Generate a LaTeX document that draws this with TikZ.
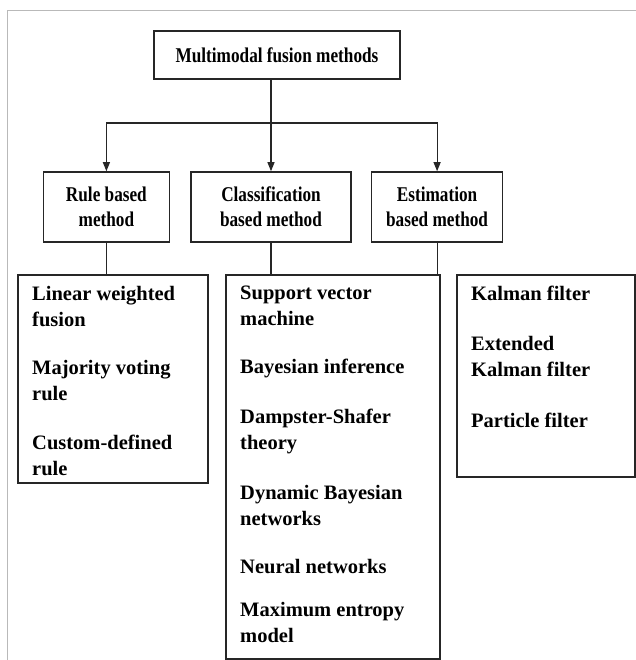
\documentclass[tikz,border=0pt]{standalone}
\usepackage{fontspec}
\setmainfont{Liberation Serif}
\newfontfamily\headfont[FakeStretch=0.82]{Liberation Serif}
\usetikzlibrary{arrows.meta,positioning}
\tikzset{
	headbox/.style={rectangle, draw=black!85, line width=1.6pt, align=center,
		font=\headfont\bfseries\fontsize{21}{25}\selectfont, inner sep=4pt},
	listbox/.style={rectangle, draw=black!85, line width=1.6pt, anchor=north west, inner sep=0pt},
	listtext/.style={anchor=north west, align=left, font=\bfseries\fontsize{20.5}{26}\selectfont,
		inner xsep=15pt, inner ysep=12pt},
	conn/.style={draw=black!85, line width=1.1pt},
	arr/.style={conn, -{Triangle[length=9pt,width=7pt]}}
}
\begin{document}
\begin{tikzpicture}[x=1pt, y=-1pt]
	\useasboundingbox (0,0) rectangle (635,660);
	\draw[gray!55, line width=0.8pt] (7,10) rectangle (650,680);
	% top and method boxes
	\node[headbox, minimum width=246pt, minimum height=48pt] (top) at (277,55) {Multimodal fusion methods};
	\node[headbox, minimum width=160pt, minimum height=70pt] (class) at (271,207) {Classification\\based method};
	\node[headbox, minimum width=126pt, minimum height=70pt, left=20pt of class] (rule) {Rule based\\method};
	\node[headbox, minimum width=131pt, minimum height=70pt, right=19pt of class] (est) {Estimation\\based method};
	% lists
	\node[listbox, minimum width=190pt, minimum height=208pt] (rlist) at (17,274) {};
	\node[listbox, minimum width=214pt, minimum height=384pt] (clist) at (225,274) {};
	\node[listbox, minimum width=178pt, minimum height=202pt] (elist) at (456,274) {};
	\node[listtext] (rtxt) at (rlist.north west) {Linear weighted\\fusion\\[22pt]Majority voting\\rule\\[23pt]Custom-defined\\rule};
	\node[listtext] (ctxt) at (clist.north west) {Support vector\\machine\\[22pt]Bayesian inference\\[24pt]Dampster-Shafer\\theory\\[24pt]Dynamic Bayesian\\networks\\[22pt]Neural networks\\[17pt]Maximum entropy\\model};
	\node[listtext] (etxt) at (elist.north west) {Kalman filter\\[24pt]Extended\\Kalman filter\\[25pt]Particle filter};
	% connectors
	\coordinate (bus) at (271,123);
	\draw[conn] (bus |- top.south) -- (bus);
	\draw[arr] (bus) -| (rule.north);
	\draw[arr] (bus) -- (class.north);
	\draw[arr] (bus) -| (est.north);
	\draw[conn] (rule.south) -- (rule.south |- rlist.north);
	\draw[conn] (class.south) -- (class.south |- clist.north);
	\draw[conn] (est.south) -- (est.south |- elist.north);
\end{tikzpicture}
\end{document}
